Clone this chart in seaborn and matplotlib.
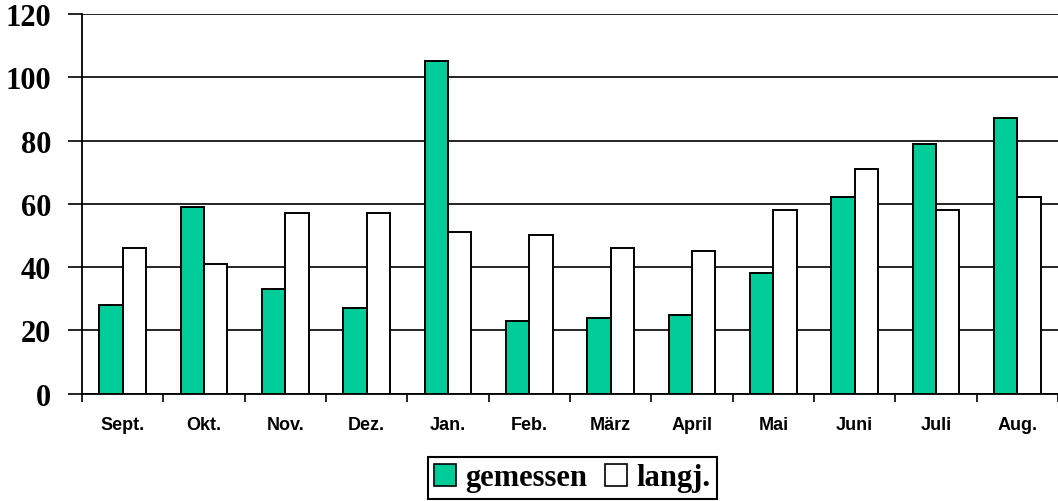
import pandas as pd
import matplotlib.pyplot as plt
import seaborn as sns
from matplotlib.ticker import FixedLocator

# Monatswerte (gemessen vs. langjähriges Mittel)
monate = ['Sept.', 'Okt.', 'Nov.', 'Dez.', 'Jan.', 'Feb.', 'März', 'April',
          'Mai', 'Juni', 'Juli', 'Aug.']
gemessen = [28, 59, 33, 27, 105, 23, 24, 25, 38, 62, 79, 87]
langj = [46, 41, 57, 57, 51, 50, 46, 45, 58, 71, 58, 62]
y_ticks = [0, 20, 40, 60, 80, 100, 120]

df = pd.DataFrame({
    'Monat': monate * 2,
    'Wert': gemessen + langj,
    'Reihe': ['gemessen'] * len(monate) + ['langj.'] * len(monate),
})

sns.set_theme(style='white')
plt.rcParams['font.family'] = ['Liberation Serif', 'DejaVu Serif']
plt.rcParams['text.color'] = 'black'
plt.rcParams['xtick.color'] = 'black'
plt.rcParams['ytick.color'] = 'black'
plt.rcParams['xtick.labelcolor'] = 'black'
plt.rcParams['ytick.labelcolor'] = 'black'

fig = plt.figure(figsize=(10.58, 5.02), dpi=100)
ax = fig.add_axes([0.0775, 0.214, 0.9225, 0.756])

sns.barplot(data=df, x='Monat', y='Wert', hue='Reihe', order=monate,
            palette={'gemessen': '#00CC99', 'langj.': '#FFFFFF'},
            saturation=1, width=0.57, gap=0, edgecolor='black',
            linewidth=1.4, errorbar=None, ax=ax, zorder=3)

ax.set_ylim(0, 120)
ax.set_xlim(-0.5, 11.5)
ax.set_xlabel('')
ax.set_ylabel('')

# y-Achse: Gitterlinien + fette Serifenzahlen
ax.set_yticks(y_ticks)
ax.set_yticklabels([str(v) for v in y_ticks], fontsize=22, fontweight='bold',
                   family='Liberation Serif', color='black')
ax.tick_params(axis='y', which='major', direction='out', length=10, width=1.2,
               color='black', pad=12, left=True)
ax.yaxis.grid(True, color='black', linewidth=1.2, zorder=0)
ax.set_axisbelow(True)

# x-Achse: Beschriftung mittig, Striche an Kategoriegrenzen
ax.set_xticks(range(len(monate)))
ax.set_xticklabels(monate, fontsize=13, fontweight='bold',
                   family='Liberation Sans', color='black')
ax.tick_params(axis='x', which='major', length=0, pad=16)
ax.xaxis.set_minor_locator(FixedLocator([i - 0.5 for i in range(len(monate) + 1)]))
ax.tick_params(axis='x', which='minor', direction='out', length=6, width=1.2,
               color='black', bottom=True)

for side in ['top', 'right']:
    ax.spines[side].set_visible(False)
for side in ['left', 'bottom']:
    ax.spines[side].set_color('black')
    ax.spines[side].set_linewidth(1.3)

# Legende unten mittig
old = ax.get_legend()
handles = old.legend_handles
labels = [t.get_text() for t in old.get_texts()]
old.remove()
for h in handles:
    h.set_edgecolor('black')
    h.set_linewidth(1.2)
leg = fig.legend(handles, labels, loc='center', bbox_to_anchor=(0.541, 0.046),
                 ncol=2, frameon=True, fancybox=False, framealpha=1,
                 edgecolor='black', handlelength=0.72, handleheight=0.72,
                 handletextpad=0.3, columnspacing=0.6, borderpad=0.2,
                 borderaxespad=0,
                 prop={'family': 'Liberation Serif', 'weight': 'bold', 'size': 22})
leg.get_frame().set_linewidth(1.5)
for t in leg.get_texts():
    t.set_color('black')

fig.savefig('out.png', dpi=100)
